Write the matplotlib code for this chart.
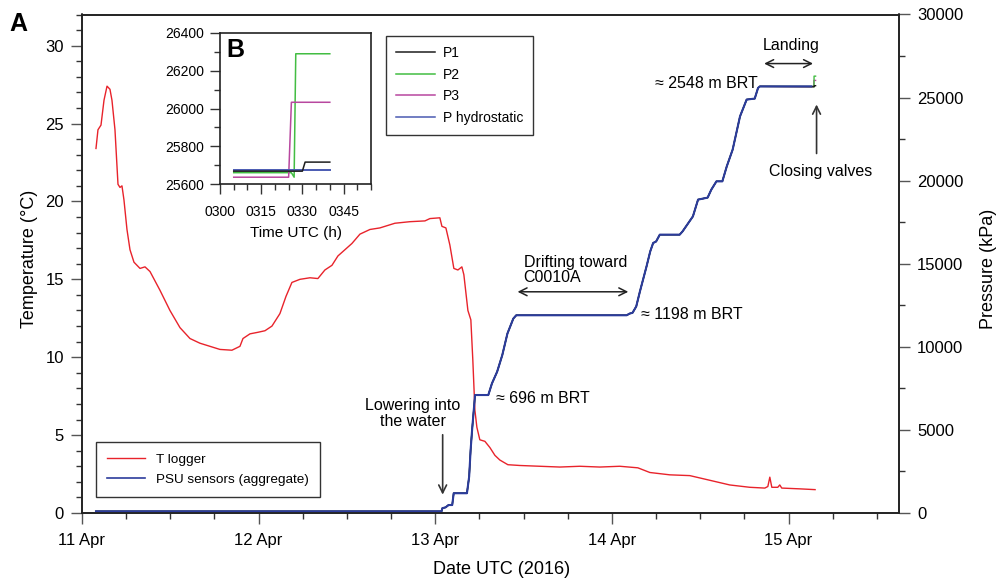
import numpy as np
import pandas as pd
import matplotlib
matplotlib.use("Agg")
import matplotlib.pyplot as plt
import matplotlib.dates as mdates
from matplotlib.lines import Line2D
from matplotlib.ticker import MultipleLocator

plt.rcParams['font.family'] = ['Liberation Sans', 'DejaVu Sans']

# ---- data -------------------------------------------------------------
start = pd.Timestamp('2016-04-11 00:00')

# temperature logger (hours after 11 Apr 00:00 UTC, degC)
temp_hours = [1.90, 2.17, 2.58, 2.99, 3.40, 3.80, 4.07, 4.48, 4.89, 5.16, 5.43, 5.70,
              6.11, 6.52, 7.06, 7.88, 8.56, 9.24, 10.59, 11.95, 13.31, 14.67, 16.02,
              17.38, 18.74, 20.37, 21.46, 21.87, 22.82, 23.90, 24.86, 25.81, 26.89,
              27.71, 28.52, 29.61, 30.97, 32.05, 33.00, 33.96, 34.77, 35.72, 36.67,
              37.76, 39.12, 40.47, 42.51, 44.55, 46.59, 47.27, 48.62, 48.90, 49.44,
              49.98, 50.52, 51.07, 51.61, 51.88, 52.43, 52.83, 53.10, 53.38, 53.65,
              54.05, 54.74, 55.42, 56.10, 56.77, 57.86, 59.49, 62.21, 64.92, 67.64,
              70.35, 73.07, 75.52, 77.15, 79.86, 82.58, 85.30, 88.01, 90.73, 92.77,
              93.18, 93.45, 93.72, 94.53, 94.80, 95.07, 97.52, 99.60]
temp_c = [23.4, 24.6, 24.9, 26.5, 27.4, 27.2, 26.5, 24.6, 21.1, 20.9, 21.0, 20.1,
          18.2, 16.9, 16.1, 15.7, 15.8, 15.5, 14.3, 13.0, 11.9, 11.2, 10.9,
          10.7, 10.5, 10.45, 10.7, 11.2, 11.5, 11.6, 11.7, 12.0, 12.8,
          13.9, 14.8, 15.0, 15.1, 15.05, 15.6, 15.9, 16.5, 16.9, 17.3,
          17.9, 18.2, 18.3, 18.6, 18.7, 18.75, 18.9, 18.95, 18.4, 18.3,
          17.2, 15.7, 15.6, 15.8, 15.3, 13.0, 12.4, 9.8, 6.6, 5.5,
          4.7, 4.6, 4.2, 3.7, 3.4, 3.1, 3.05, 3.0, 2.95, 3.0,
          2.95, 3.0, 2.9, 2.6, 2.45, 2.4, 2.1, 1.8, 1.65, 1.6,
          1.7, 2.3, 1.65, 1.65, 1.8, 1.6, 1.55, 1.5]

# PSU pressure sensors, aggregate (hours after 11 Apr 00:00 UTC, kPa)
psu_hours = [1.9, 48.85, 48.96, 49.4, 49.8, 50.3, 50.5, 52.3, 52.6, 52.8, 53.0, 53.4,
             55.2, 55.7, 56.4, 57.1, 57.8, 58.6, 59.0, 74.0, 74.4, 74.8, 75.3, 75.8,
             76.7, 77.2, 77.6, 78.0, 78.5, 81.2, 81.6, 83.0, 83.7, 85.0, 85.5, 86.2,
             87.0, 87.6, 88.4, 89.4, 90.3, 91.4, 91.85, 92.1, 99.08]
psu_kpa = [101, 101, 290, 340, 480, 480, 1190, 1190, 2190, 3800, 5000, 7100,
           7100, 7800, 8500, 9500, 10800, 11700, 11900, 11900, 12000, 12050, 12430, 13330,
           14840, 15740, 16250, 16340, 16750, 16750, 16950, 17850, 18860, 18980, 19460, 19960,
           19960, 20860, 21870, 23870, 24880, 24940, 25580, 25673, 25673]

# individual sensors at the end of the landing (minutes after 15 Apr 03:00 UTC, kPa)
p1_min = [5, 30, 31, 40]
p1_kpa = [25668, 25668, 25716, 25716]
p2_min = [5, 26, 27, 27.6, 40]
p2_kpa = [25660, 25660, 25636, 26290, 26290]
p3_min = [5, 25, 26, 40]
p3_kpa = [25636, 25636, 26033, 26033]
hydro_min = [5, 40]
hydro_kpa = [25673, 25673]

inset_start = pd.Timestamp('2016-04-15 03:00')

RED = '#e8232b'
AGG = '#2c3c9c'
C_P1 = '#1e1e1e'
C_P2 = '#43bd43'
C_P3 = '#b8479f'
C_HY = '#4a5ab2'


def hours_to_dates(h):
    return mdates.date2num(start + pd.to_timedelta(np.asarray(h, dtype=float), unit='h'))


def minutes_to_dates(m):
    return mdates.date2num(inset_start + pd.to_timedelta(np.asarray(m, dtype=float), unit='m'))


t_temp = hours_to_dates(temp_hours)
t_psu = hours_to_dates(psu_hours)

# full traces of single sensors: aggregate record followed by the last minutes
cut = np.array(psu_hours) < 99.08
def sensor_trace(mins, vals):
    tt = np.concatenate([t_psu[cut], minutes_to_dates(mins)])
    vv = np.concatenate([np.array(psu_kpa)[cut], vals])
    return tt, vv

# ---- figure -----------------------------------------------------------
fig = plt.figure(figsize=(10.01, 5.81), dpi=100)
ax = fig.add_axes([82 / 1001, 1 - 513 / 581, 817 / 1001, 498.5 / 581])
ax2 = ax.twinx()

ax.plot(t_temp, temp_c, color=RED, lw=1.0, zorder=3)

for mins, vals, col in [(p3_min, p3_kpa, C_P3), (p2_min, p2_kpa, C_P2), (p1_min, p1_kpa, C_P1)]:
    tt, vv = sensor_trace(mins, vals)
    ax2.plot(tt, vv, color=col, lw=1.0)
ax2.plot(t_psu, psu_kpa, color=AGG, lw=1.5)

ax.set_xlim(mdates.date2num(start), mdates.date2num(start + pd.Timedelta(hours=111)))
ax.set_ylim(0, 32)
ax2.set_ylim(0, 30000)

ax.xaxis.set_major_locator(mdates.DayLocator())
ax.xaxis.set_minor_locator(mdates.HourLocator(byhour=[6, 12, 18]))
ax.xaxis.set_major_formatter(mdates.DateFormatter('%-d %b'))
ax.yaxis.set_major_locator(MultipleLocator(5))
ax.yaxis.set_minor_locator(MultipleLocator(1))
ax2.yaxis.set_major_locator(MultipleLocator(5000))
ax2.yaxis.set_minor_locator(MultipleLocator(2500))

for a in (ax, ax2):
    a.tick_params(which='major', direction='out', length=8, width=1.0, color='#555555',
                  labelsize=12, pad=5)
    a.tick_params(which='minor', direction='out', length=4, width=1.0, color='#333333')
    for s in a.spines.values():
        s.set_linewidth(1.2)
        s.set_color('#222222')
ax.tick_params(axis='x', which='major', pad=6.5)

ax.set_ylabel('Temperature (°C)', fontsize=13)
ax.yaxis.set_label_coords(-0.054, 0.51)
ax2.set_ylabel('Pressure (kPa)', fontsize=13)
ax2.yaxis.set_label_coords(1.099, 0.49)
ax.set_xlabel('Date UTC (2016)', fontsize=13)
ax.xaxis.set_label_coords(0.514, -0.097)

# main legend
leg = ax2.legend([Line2D([], [], color=RED, lw=1.0), Line2D([], [], color=AGG, lw=1.2)],
                 ['T logger', 'PSU sensors (aggregate)'],
                 loc='lower left', bbox_to_anchor=(0.017, 0.032), borderaxespad=0,
                 fontsize=9.7, fancybox=False, framealpha=1, edgecolor='#333333',
                 handlelength=2.8, handletextpad=0.8, borderpad=0.85, labelspacing=0.55)
leg.get_frame().set_linewidth(1.0)

# annotations (x as date numbers, y in degC)
def X(h):
    return hours_to_dates([h])[0]

fs = 11.5
ax.text(X(44.9), 6.4, 'Lowering into\nthe water', ha='center', va='center', fontsize=fs,
        linespacing=1.05)
ax.annotate('', xy=(X(49.0), 1.0), xytext=(X(49.0), 5.2),
            arrowprops=dict(arrowstyle='->', color='#333333', lw=1.2,
                            mutation_scale=14))
ax.text(X(56.2), 7.35, '≈ 696 m BRT', ha='left', va='center', fontsize=fs)
ax.text(X(60.0), 15.6, 'Drifting toward\nC0010A', ha='left', va='center', fontsize=fs,
        linespacing=1.0)
ax.annotate('', xy=(X(58.8), 14.2), xytext=(X(74.6), 14.2),
            arrowprops=dict(arrowstyle='<->', color='#222222', lw=1.1, mutation_scale=14))
ax.text(X(76.0), 12.75, '≈ 1198 m BRT', ha='left', va='center', fontsize=fs)
ax.text(X(91.8), 27.55, '≈ 2548 m BRT', ha='right', va='center', fontsize=fs)
ax.text(X(96.3), 30.0, 'Landing', ha='center', va='center', fontsize=fs)
ax.annotate('', xy=(X(92.3), 28.85), xytext=(X(99.7), 28.85),
            arrowprops=dict(arrowstyle='<->', color='#222222', lw=1.1, mutation_scale=14))
ax.text(X(100.4), 21.9, 'Closing valves', ha='center', va='center', fontsize=fs)
ax.annotate('', xy=(X(99.8), 26.4), xytext=(X(99.8), 22.9),
            arrowprops=dict(arrowstyle='->', color='#333333', lw=1.2, mutation_scale=14))

fig.text(0.009, 0.979, 'A', fontsize=18, fontweight='bold', va='top', ha='left')

# ---- inset ------------------------------------------------------------
axi = fig.add_axes([220 / 1001, 1 - 184 / 581, 151 / 1001, 151 / 581])
axi.set_zorder(5)
axi.set_facecolor('white')
axi.plot(minutes_to_dates(p2_min), p2_kpa, color=C_P2, lw=1.1)
axi.plot(minutes_to_dates(p3_min), p3_kpa, color=C_P3, lw=1.1)
axi.plot(minutes_to_dates(hydro_min), hydro_kpa, color=C_HY, lw=1.4)
axi.plot(minutes_to_dates(p1_min), p1_kpa, color=C_P1, lw=1.1)

axi.set_xlim(minutes_to_dates([0])[0], minutes_to_dates([55])[0])
axi.set_ylim(25600, 26400)
axi.xaxis.set_major_locator(mdates.MinuteLocator(byminute=[0, 15, 30, 45]))
axi.xaxis.set_minor_locator(mdates.MinuteLocator(byminute=range(0, 60, 5)))
axi.xaxis.set_major_formatter(mdates.DateFormatter('%H%M'))
axi.yaxis.set_major_locator(MultipleLocator(200))
axi.yaxis.set_minor_locator(MultipleLocator(100))
axi.tick_params(which='major', direction='out', length=7.5, width=1.0, color='#333333',
                labelsize=10, pad=4)
axi.tick_params(which='minor', direction='out', length=4.5, width=1.0, color='#333333')
axi.tick_params(axis='x', which='major', pad=7.5)
for s in axi.spines.values():
    s.set_linewidth(1.2)
    s.set_color('#222222')
axi.set_xlabel('Time UTC (h)', fontsize=11, labelpad=5)
axi.text(0.04, 0.965, 'B', transform=axi.transAxes, fontsize=18, fontweight='bold',
         va='top', ha='left')

leg2 = fig.legend([Line2D([], [], color=c, lw=1.1) for c in (C_P1, C_P2, C_P3, C_HY)],
                  ['P1', 'P2', 'P3', 'P hydrostatic'],
                  loc='upper left', bbox_to_anchor=(386 / 1001, 1 - 36 / 581),
                  bbox_transform=fig.transFigure, borderaxespad=0,
                  fontsize=10, fancybox=False, framealpha=1, edgecolor='#333333',
                  handlelength=2.8, handletextpad=0.6, borderpad=0.7, labelspacing=0.56)
leg2.get_frame().set_linewidth(1.0)

fig.savefig('out.png', dpi=100)
